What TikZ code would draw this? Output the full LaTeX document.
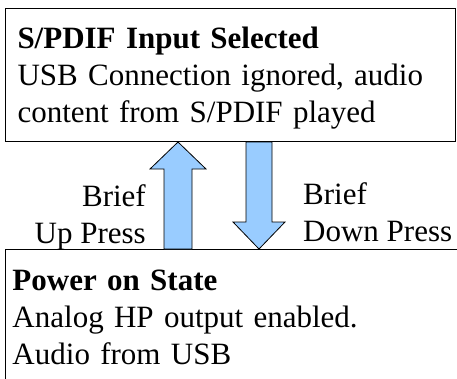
\documentclass[tikz,border=0pt]{standalone}
\usepackage{fontspec}
\setmainfont{Liberation Serif}
\usetikzlibrary{calc}

\definecolor{arrowblue}{HTML}{99CCFF}

\begin{document}
\begin{tikzpicture}[x=1pt,y=-1pt,
    statebox/.style={draw, line width=1pt, rectangle, align=left, anchor=north west,
        font=\fontsize{31}{37}\selectfont},
    presslabel/.style={inner sep=0pt, font=\fontsize{31}{37}\selectfont},
    fatarrow/.style={draw, line width=0.8pt, fill=arrowblue, line join=miter}]
    \useasboundingbox (0,0) rectangle (457,378);
    \clip (0,0) rectangle (457,378);
    % the two states
    \node[statebox, inner xsep=12pt, text width=426pt, minimum height=133pt, text depth=74pt] (spdif) at (5,8)
        {\textbf{S/PDIF Input Selected}\\\makebox[408pt][s]{USB Connection ignored, audio}\\content from S/PDIF played};
    \node[statebox, inner xsep=7pt, text width=460pt, minimum height=140pt, text depth=79pt] (poweron) at (5,249)
        {\textbf{Power on State}\\Analog HP output enabled.\\Audio from USB};
    % button presses
    \node[presslabel, align=right, anchor=north east] (uplabel) at (146,184) {Brief\\Up Press};
    \node[presslabel, align=left, anchor=north west] (downlabel) at (303,182) {Brief\\Down Press};
    \coordinate (uptip) at ($(spdif.south west)+(173,0)$);
    \coordinate (upfoot) at ($(poweron.north west)+(173,0)$);
    \coordinate (downtop) at ($(spdif.south west)+(254,0)$);
    \coordinate (downtip) at ($(poweron.north west)+(254,0)$);
    \draw[fatarrow] (uptip) -- ++(28,27) -- ++(-14,0) -- ([xshift=14pt]upfoot) -- ([xshift=-14pt]upfoot)
        -- ([shift={(-14,27)}]uptip) -- ++(-14,0) -- cycle;
    \draw[fatarrow] (downtip) -- ++(26,-27) -- ++(-13,0) -- ([xshift=13pt]downtop) -- ([xshift=-13pt]downtop)
        -- ([shift={(-13,-27)}]downtip) -- ++(-13,0) -- cycle;
\end{tikzpicture}
\end{document}
